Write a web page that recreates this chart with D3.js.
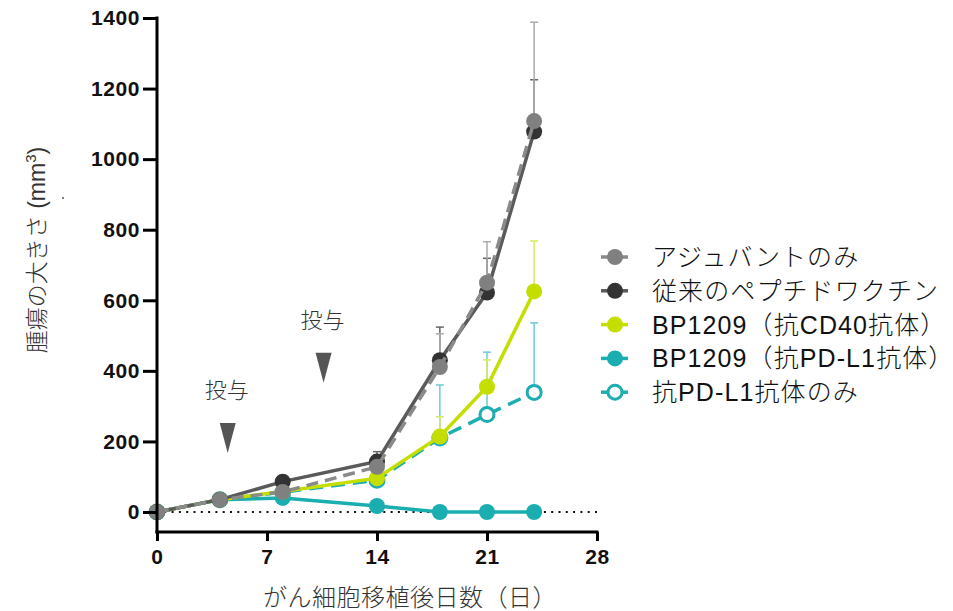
<!DOCTYPE html>
<html>
<head>
<meta charset="utf-8">
<script src="https://cdn.jsdelivr.net/npm/d3@7"></script>
<style>
  body { margin: 0; background: #fff; }
  svg { display: block; }
  text { font-family: "Liberation Sans", Arial, "Noto Sans CJK JP", sans-serif; }
</style>
</head>
<body>
<svg id="chart" width="953" height="611"></svg>
<script>
// days after tumour implantation
var days = [0, 4, 8, 14, 18, 21, 24];

var seriesNames = ['アジュバントのみ', '従来のペプチドワクチン', 'BP1209（抗CD40抗体）', 'BP1209（抗PD-L1抗体）', '抗PD-L1抗体のみ'];

// mean tumour volume (mm3) and upper error
var adjuvant     = [0, 35, 57, 128, 411, 650, 1108];
var adjuvantErr  = [0, 3, 6, 33, 94, 116, 280];
var peptide      = [0, 35, 86, 143, 430, 622, 1078];
var peptideErr   = [0, 3, 8, 28, 94, 97, 147];
var bpCD40       = [0, 35, 58, 96, 214, 355, 625];
var bpCD40Err    = [0, 2, 5, 8, 56, 76, 143];
var bpPDL1       = [0, 35, 40, 17, 0, 0, 0];
var bpPDL1Err    = [0, 2, 4, 4, 0, 0, 0];
var pdl1Only     = [0, 35, 56, 90, 210, 276, 339];
var pdl1OnlyErr  = [0, 2, 5, 10, 150, 177, 197];

var xTicks = [0, 7, 14, 21, 28];
var yTicks = [0, 200, 400, 600, 800, 1000, 1200, 1400];

// dosing annotations (day, value at arrow tip)
var doseDays = [4.5, 10.6];
var doseTips = [167, 366];

var svg = d3.select('#chart');

var x = d3.scaleLinear().domain([0, 28]).range([157, 597]);
var y = d3.scaleLinear().domain([0, 1400]).range([512, 18]);
var axisBottomY = 532;

var groups = [
    { name: seriesNames[4], values: pdl1Only, err: pdl1OnlyErr, color: '#1eadb1', lineColor: '#1eadb1', errColor: '#6fcdd0', dash: '14,8', open: true },
    { name: seriesNames[3], values: bpPDL1, err: bpPDL1Err, color: '#1aaeb0', lineColor: '#1aaeb0', errColor: '#6fcdd0', dash: null, open: false },
    { name: seriesNames[2], values: bpCD40, err: bpCD40Err, color: '#c4de00', lineColor: '#c4de00', errColor: '#d8ea60', dash: null, open: false },
    { name: seriesNames[1], values: peptide, err: peptideErr, color: '#333333', lineColor: '#5a5a5a', errColor: '#666666', dash: null, open: false },
    { name: seriesNames[0], values: adjuvant, err: adjuvantErr, color: '#808080', lineColor: '#8a8a8a', errColor: '#aaaaaa', dash: '12,7', open: false }
];

// zero reference line
svg.append('line')
    .attr('x1', x(0)).attr('x2', x(28))
    .attr('y1', y(0)).attr('y2', y(0))
    .attr('stroke', '#111')
    .attr('stroke-width', 2)
    .attr('stroke-dasharray', '2,5.3');

// error bars (upper only)
groups.forEach(function (g) {
    var eb = svg.append('g').attr('class', 'errbars');
    days.forEach(function (d, i) {
        if (g.err[i] <= 0) return;
        var top = y(g.values[i] + g.err[i]);
        eb.append('line')
            .attr('x1', x(d)).attr('x2', x(d))
            .attr('y1', y(g.values[i])).attr('y2', top)
            .attr('stroke', g.errColor).attr('stroke-width', 1.5);
        eb.append('line')
            .attr('x1', x(d) - 4).attr('x2', x(d) + 4)
            .attr('y1', top).attr('y2', top)
            .attr('stroke', g.errColor).attr('stroke-width', 1.5);
    });
});

var line = d3.line()
    .x(function (d) { return x(d[0]); })
    .y(function (d) { return y(d[1]); });

groups.forEach(function (g) {
    var pts = days.map(function (d, i) { return [d, g.values[i]]; });
    svg.append('path')
        .datum(pts)
        .attr('d', line)
        .attr('fill', 'none')
        .attr('stroke', g.lineColor)
        .attr('stroke-width', 3.5)
        .attr('stroke-dasharray', g.dash);
    svg.selectAll(null)
        .data(pts)
        .enter()
        .append('circle')
        .attr('cx', function (d) { return x(d[0]); })
        .attr('cy', function (d) { return y(d[1]); })
        .attr('r', g.open ? 7 : 8)
        .attr('fill', g.open ? '#fff' : g.color)
        .attr('stroke', g.open ? g.color : 'none')
        .attr('stroke-width', 3);
});

// axes
var yAxis = svg.append('g')
    .attr('transform', 'translate(' + x(0) + ',0)')
    .call(d3.axisLeft(y).tickValues(yTicks).tickFormat(d3.format('d')).tickSize(14).tickPadding(3).tickSizeOuter(0));
yAxis.select('.domain').remove();
yAxis.selectAll('.tick line').attr('stroke', '#000').attr('stroke-width', 3);
yAxis.selectAll('.tick text')
    .attr('fill', '#111')
    .style('font-size', '21px')
    .style('letter-spacing', '0.6px')
    .style('font-weight', 'bold');
svg.append('line')
    .attr('x1', x(0)).attr('x2', x(0))
    .attr('y1', y(1400) - 1.5).attr('y2', axisBottomY + 1.5)
    .attr('stroke', '#000').attr('stroke-width', 3);

var xAxis = svg.append('g')
    .attr('transform', 'translate(0,' + axisBottomY + ')')
    .call(d3.axisBottom(x).tickValues(xTicks).tickSize(9).tickPadding(8).tickSizeOuter(0));
xAxis.select('.domain').remove();
xAxis.selectAll('.tick line').attr('stroke', '#000').attr('stroke-width', 3);
xAxis.selectAll('.tick text')
    .attr('fill', '#111')
    .style('font-size', '21px')
    .style('letter-spacing', '0.6px')
    .style('font-weight', 'bold');
svg.append('line')
    .attr('x1', x(0) - 1.5).attr('x2', x(28) + 1.5)
    .attr('y1', axisBottomY).attr('y2', axisBottomY)
    .attr('stroke', '#000').attr('stroke-width', 3);

// axis titles
svg.append('text')
    .attr('x', 410).attr('y', 606)
    .attr('text-anchor', 'middle')
    .style('font-size', '24px')
    .style('letter-spacing', '0.5px')
    .style('font-weight', 300)
    .attr('fill', '#333')
    .text('がん細胞移植後日数（日）');

var yTitle = svg.append('text')
    .attr('transform', 'translate(45,250) rotate(-90)')
    .attr('text-anchor', 'middle')
    .style('font-size', '23px')
    .style('font-weight', 300)
    .attr('fill', '#333');
yTitle.append('tspan').text('腫瘍の大きさ (mm');
yTitle.append('tspan').attr('dy', -9).style('font-size', '15px').text('3');
yTitle.append('tspan').attr('dy', 9).text(')');
svg.append('circle').attr('cx', 63).attr('cy', 198).attr('r', 1).attr('fill', '#555');

// dosing markers
doseDays.forEach(function (d, i) {
    var tx = x(d), ty = y(doseTips[i]);
    svg.append('path')
        .attr('d', 'M' + (tx - 8) + ',' + (ty - 30) + 'L' + (tx + 8) + ',' + (ty - 30) + 'L' + tx + ',' + ty + 'Z')
        .attr('fill', '#555');
    svg.append('text')
        .attr('x', tx - 1).attr('y', ty - 55)
        .attr('text-anchor', 'middle')
        .style('font-size', '22px')
        .style('font-weight', 300)
        .attr('fill', '#333')
        .text('投与');
});

// legend
var legendOrder = [groups[4], groups[3], groups[2], groups[1], groups[0]];
var legend = svg.append('g').attr('transform', 'translate(615,257)');
legendOrder.forEach(function (g, i) {
    var row = legend.append('g').attr('transform', 'translate(0,' + (i * 33.8) + ')');
    row.append('line')
        .attr('x1', -14).attr('x2', 13)
        .attr('stroke', g.lineColor).attr('stroke-width', 3.5);
    row.append('circle')
        .attr('r', g.open ? 7 : 8)
        .attr('fill', g.open ? '#fff' : g.color)
        .attr('stroke', g.open ? g.color : 'none')
        .attr('stroke-width', 3);
    row.append('text')
        .attr('x', 37).attr('y', 9)
        .style('font-size', '25px')
        .style('letter-spacing', '1.1px')
        .style('font-weight', 300)
        .attr('fill', '#111')
        .text(g.name);
});
</script>
</body>
</html>
